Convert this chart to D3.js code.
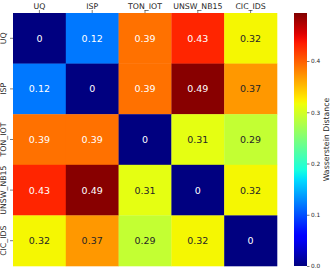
<!DOCTYPE html>
<html><head><meta charset="utf-8">
<script src="https://cdn.jsdelivr.net/npm/d3@7"></script>
<style>body{margin:0;background:#fff}svg{display:block}text{font-family:"DejaVu Sans",sans-serif}</style>
</head><body><svg id="c" width="332" height="273"></svg>
<script>
const categories = ["UQ","ISP","TON_IOT","UNSW_NB15","CIC_IDS"];
const values = [
  [0, 0.12, 0.39, 0.43, 0.32],
  [0.12, 0, 0.39, 0.49, 0.37],
  [0.39, 0.39, 0, 0.31, 0.29],
  [0.43, 0.49, 0.31, 0, 0.32],
  [0.32, 0.37, 0.29, 0.32, 0]
];
const cbTicks = [0.0, 0.1, 0.2, 0.3, 0.4];
const cbLabel = "Wasserstein Distance";
const vmax = 0.4937;

function interp(pts, t){
  for(let i=1;i<pts.length;i++){
    if(t<=pts[i][0]){const a=pts[i-1],b=pts[i];return a[1]+(b[1]-a[1])*(t-a[0])/(b[0]-a[0]);}
  }
  return pts[pts.length-1][1];
}
const R=[[0,0],[0.35,0],[0.66,1],[0.89,1],[1,0.5]];
const G=[[0,0],[0.125,0],[0.375,1],[0.64,1],[0.91,0],[1,0]];
const B=[[0,0.5],[0.11,1],[0.34,1],[0.65,0],[1,0]];
function jet(t){t=Math.max(0,Math.min(1,t));return [interp(R,t),interp(G,t),interp(B,t)];}
function jetStr(t){const c=jet(t);return d3.rgb(c[0]*255,c[1]*255,c[2]*255).toString();}
function lum(c){const f=v=>v<=0.03928?v/12.92:Math.pow((v+0.055)/1.055,2.4);return 0.2126*f(c[0])+0.7152*f(c[1])+0.0722*f(c[2]);}

const svg=d3.select("#c");
const L=13,T=13,W=264,H=253;
const x=d3.scaleBand().domain(categories).range([L,L+W]);
const y=d3.scaleBand().domain(categories).range([T,T+H]);
const norm=d3.scaleLinear().domain([0,vmax]).range([0,1]);

const cells=[];
values.forEach((row,i)=>row.forEach((v,j)=>cells.push({r:categories[i],c:categories[j],v})));
svg.selectAll("rect.cell").data(cells).join("rect").attr("class","cell")
  .attr("x",d=>x(d.c)).attr("y",d=>y(d.r)).attr("width",x.bandwidth()+0.3).attr("height",y.bandwidth()+0.3)
  .attr("fill",d=>jetStr(norm(d.v)));
svg.selectAll("text.ann").data(cells).join("text").attr("class","ann")
  .attr("x",d=>x(d.c)+x.bandwidth()/2).attr("y",d=>y(d.r)+y.bandwidth()/2)
  .attr("text-anchor","middle").attr("dominant-baseline","central")
  .attr("font-size","9.5px")
  .attr("fill",d=>lum(jet(norm(d.v)))>0.408?"#262626":"#ffffff")
  .text(d=>d.v===0?"0":d3.format(".2f")(d.v));

const xa=svg.append("g").attr("transform",`translate(0,${T})`).call(d3.axisTop(x).tickSize(3).tickPadding(1.5));
const ya=svg.append("g").attr("transform",`translate(${L},0)`).call(d3.axisLeft(y).tickSize(3).tickPadding(1.5));
[xa,ya].forEach(a=>{a.select(".domain").remove();a.selectAll("text").attr("font-size","7.8px").attr("fill","#262626").style("font-family","DejaVu Sans");a.selectAll("line").attr("stroke","#262626").attr("stroke-width",0.6);});
ya.selectAll(".tick text").attr("text-anchor","middle").attr("x",0).attr("dy",0)
  .attr("transform","translate(-7,0) rotate(-90)").attr("dominant-baseline","auto").attr("y",0);

// colorbar
const cx=294,cw=13,cTop=13,cBot=266;
const cy=d3.scaleLinear().domain([0,vmax]).range([cBot,cTop]);
const defs=svg.append("defs");
const grad=defs.append("linearGradient").attr("id","g").attr("x1",0).attr("y1",1).attr("x2",0).attr("y2",0);
d3.range(0,1.0001,0.02).forEach(t=>grad.append("stop").attr("offset",t).attr("stop-color",jetStr(t)));
svg.append("rect").attr("x",cx).attr("y",cTop).attr("width",cw).attr("height",cBot-cTop).attr("fill","url(#g)");
const ca=svg.append("g").attr("transform",`translate(${cx+cw},0)`).call(d3.axisRight(cy).tickValues(cbTicks).tickFormat(d3.format(".1f")).tickSize(2.5).tickPadding(1.5));
ca.select(".domain").remove();
ca.selectAll("text").attr("font-size","5.8px").attr("fill","#262626").style("font-family","DejaVu Sans");
ca.selectAll("line").attr("stroke","#262626").attr("stroke-width",0.6);
svg.append("text").attr("transform",`translate(326,${(cTop+cBot)/2}) rotate(-90)`).attr("text-anchor","middle")
  .attr("dominant-baseline","central").attr("font-size","7.8px").attr("fill","#262626").text(cbLabel);
</script></body></html>
